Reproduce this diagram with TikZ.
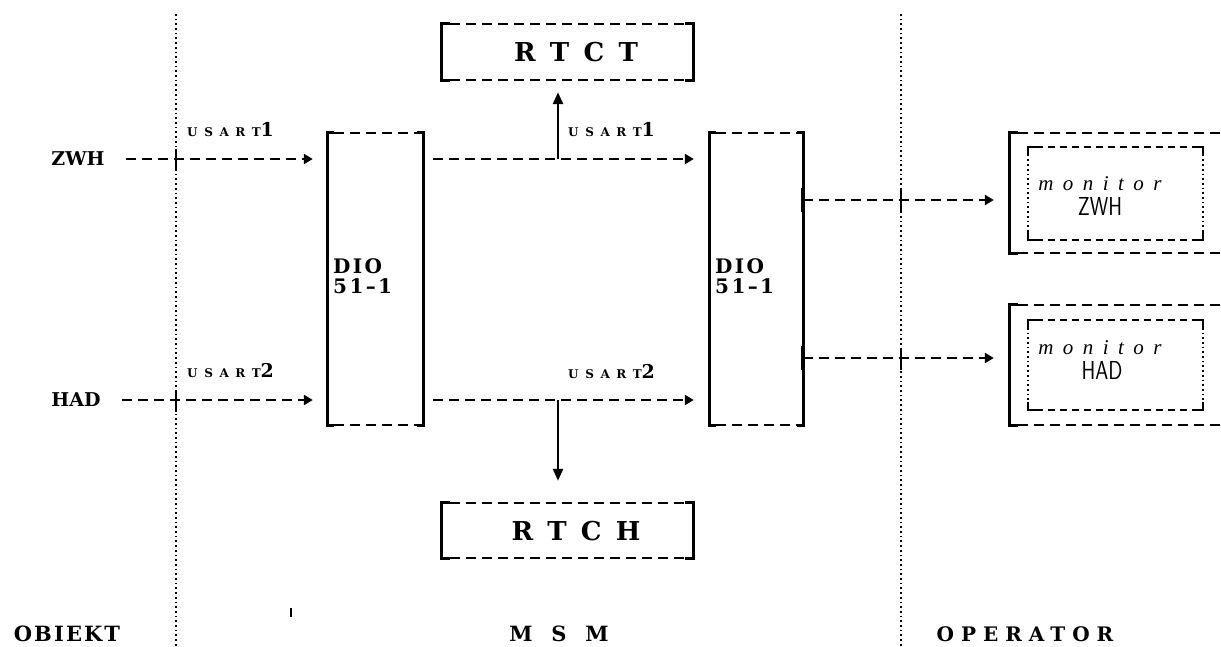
\documentclass[tikz,border=0pt]{standalone}
\usepackage{fontspec}
\usetikzlibrary{arrows.meta}
\newfontfamily\bserif{DejaVu Serif}
\newfontfamily\usfont[LetterSpace=55]{DejaVu Serif}
\newfontfamily\dioFont[LetterSpace=12]{DejaVu Serif}
\newfontfamily\rtFont[LetterSpace=20]{DejaVu Serif}
\newfontfamily\wideFont[LetterSpace=35]{DejaVu Serif}
\newfontfamily\msmFont[LetterSpace=55]{DejaVu Serif}
\newfontfamily\objFont[LetterSpace=10]{DejaVu Serif}
\newfontfamily\monfont[LetterSpace=45]{Liberation Serif}
\newcommand\usartlbl[1]{{\fontsize{12}{12}\usfont\bfseries USART}{\fontsize{19}{19}\bserif\bfseries #1}}
\newcommand\drawbrk[2]{%
  \draw[side] ([xshift=#2]#1.north west) -- (#1.north west) -- (#1.south west) -- ([xshift=#2]#1.south west);
  \draw[side] ([xshift=-#2]#1.north east) -- (#1.north east) -- (#1.south east) -- ([xshift=-#2]#1.south east);
  \draw[dline] ([xshift=#2]#1.north west) -- ([xshift=-#2]#1.north east) ([xshift=#2]#1.south west) -- ([xshift=-#2]#1.south east);}
\newcommand\drawouter[1]{%
  \draw[side] ([xshift=8]#1.north west) -- (#1.north west) -- (#1.south west) -- ([xshift=8]#1.south west);
  \draw[dline] ([xshift=8]#1.north west) -- (#1.north east) ([xshift=8]#1.south west) -- (#1.south east);}
\newcommand\drawinner[1]{%
  \draw[corner] ([xshift=8]#1.north west) -- (#1.north west) -- ([yshift=-8]#1.north west);
  \draw[corner] ([xshift=8]#1.south west) -- (#1.south west) -- ([yshift=8]#1.south west);
  \draw[corner] ([xshift=-8]#1.north east) -- (#1.north east) -- ([yshift=-8]#1.north east);
  \draw[corner] ([xshift=-8]#1.south east) -- (#1.south east) -- ([yshift=8]#1.south east);
  \draw[sep] ([yshift=-8]#1.north west) -- ([yshift=8]#1.south west) ([yshift=-8]#1.north east) -- ([yshift=8]#1.south east);
  \draw[fdline] ([xshift=8]#1.north west) -- ([xshift=-8]#1.north east) ([xshift=8]#1.south west) -- ([xshift=-8]#1.south east);}
\begin{document}
\begin{tikzpicture}[x=1pt,y=-1pt,
  side/.style={line width=2.8pt},
  corner/.style={line width=2.4pt},
  dline/.style={line width=2.3pt, dash pattern=on 10pt off 6pt},
  fdline/.style={line width=2pt, dash pattern=on 7pt off 5pt},
  sep/.style={line width=1.7pt, dash pattern=on 1.7pt off 3pt},
  flow/.style={dline, -{Triangle[length=9pt,width=10pt]}},
  vflow/.style={line width=2.5pt, -{Triangle[length=12pt,width=10pt]}},
  cross/.style={line width=2.4pt},
  blk/.style={rectangle, draw=none, inner sep=0},
  txt/.style={inner sep=0},
  big/.style={txt, font=\fontsize{19}{19}\bserif\bfseries},
]
\useasboundingbox (0,0) rectangle (1221,647);

% separators
\coordinate (s1t) at (176,14); \coordinate (s1b) at (176,647);
\coordinate (s2t) at (901,14); \coordinate (s2b) at (901,647);
\draw[sep] (s1t) -- (s1b);
\draw[sep] (s2t) -- (s2b);

% boxes
\node[blk, minimum width=95, minimum height=292] (d1) at (375.5,279) {};
\node[blk, minimum width=93, minimum height=292] (d2) at (756.5,279) {};
\node[blk, minimum width=251, minimum height=56] (rtct) at (567.5,52) {};
\node[blk, minimum width=251, minimum height=55] (rtch) at (567.5,530.5) {};
\node[blk, minimum width=230, minimum height=120] (mo1) at (1125,193) {};
\node[blk, minimum width=175, minimum height=93] (mi1) at (1115.5,193.5) {};
\node[blk, minimum width=230, minimum height=120] (mo2) at (1125,365) {};
\node[blk, minimum width=175, minimum height=90] (mi2) at (1115.5,365) {};
\drawbrk{d1}{6}
\drawbrk{d2}{6}
\drawbrk{rtct}{8}
\drawbrk{rtch}{8}
\drawouter{mo1}
\drawouter{mo2}
\drawinner{mi1}
\drawinner{mi2}

% texts in boxes
\node[txt, anchor=north west, align=left, font=\fontsize{20}{20}\dioFont\bfseries] (d1t) at (333,258) {DIO\\51–1};
\node[txt, anchor=north west, align=left, font=\fontsize{20}{20}\dioFont\bfseries] (d2t) at (715,258) {DIO\\51–1};
\node[txt, font=\fontsize{26}{26}\rtFont\bfseries] (rtctt) at (576,52) {R T C T};
\node[txt, font=\fontsize{26}{26}\rtFont\bfseries] (rtcht) at (576,531) {R T C H};
\node[txt, anchor=base, font=\fontsize{21}{21}\monfont\itshape] (m1a) at (1100,191) {monitor};
\node[txt, anchor=base, font=\fontsize{26}{26}\sffamily] (m1b) at (1100,216) {\scalebox{0.8}[1]{ZWH}};
\node[txt, anchor=base, font=\fontsize{21}{21}\monfont\itshape] (m2a) at (1100,354) {monitor};
\node[txt, anchor=base, font=\fontsize{26}{26}\sffamily] (m2b) at (1102,379) {\scalebox{0.8}[1]{HAD}};

% sources
\node[big] (zwh) at (78,159) {ZWH};
\node[big] (had) at (76,400) {HAD};

% labels
\node[txt, anchor=base west] (u1) at (187,137) {\usartlbl{1}};
\node[txt, anchor=base west] (u2) at (187,377) {\usartlbl{2}};
\node[txt, anchor=base west] (u3) at (568,137) {\usartlbl{1}};
\node[txt, anchor=base west] (u4) at (568,378) {\usartlbl{2}};

% flows
\draw[flow, shorten <=21pt, shorten >=15pt] (zwh.east) -- (zwh.east -| d1.west);
\draw[flow, shorten <=21pt, shorten >=15pt] (had.east) -- (had.east -| d1.west);
\draw[flow, shorten <=10pt, shorten >=16pt] (d1.east |- zwh.east) -- (d2.west |- zwh.east);
\draw[flow, shorten <=10pt, shorten >=16pt] (d1.east |- had.east) -- (d2.west |- had.east);
\coordinate (j1) at (558,159);
\coordinate (j2) at (558,400);
\draw[vflow, shorten >=12pt] (j1) -- (j1 |- rtct.south);
\draw[vflow, shorten >=22pt] (j2) -- (j2 |- rtch.north);
\coordinate (o1) at (803,200);
\coordinate (o2) at (803,358);
\draw[flow, shorten >=16pt] (o1) -- (o1 -| mo1.west);
\draw[flow, shorten >=16pt] (o2) -- (o2 -| mo2.west);
\draw[line width=4.5pt] ([yshift=12]o1) -- ([yshift=-12]o1);
\draw[line width=4.5pt] ([yshift=12]o2) -- ([yshift=-12]o2);

% crossings on separators
\draw[cross] ([yshift=10]s1t |- zwh.east) -- ([yshift=-12]s1t |- zwh.east);
\draw[cross] ([yshift=10]s1t |- had.east) -- ([yshift=-12]s1t |- had.east);
\draw[cross] ([yshift=10]s2t |- o1) -- ([yshift=-12]s2t |- o1);
\draw[cross] ([yshift=10]s2t |- o2) -- ([yshift=-12]s2t |- o2);

% stray mark
\coordinate (st) at (291,608);
\draw[line width=1.2pt] (st) -- ++(0,9);

% bottom labels
\node[txt, anchor=base, font=\fontsize{21}{21}\objFont\bfseries] (obj) at (67,641) {OBIEKT};
\node[txt, anchor=base, font=\fontsize{21}{21}\msmFont\bfseries] (msm) at (559,641) {M S M};
\node[txt, anchor=base, font=\fontsize{20}{20}\wideFont\bfseries] (opr) at (1025,641) {OPERATOR};
\end{tikzpicture}
\end{document}
